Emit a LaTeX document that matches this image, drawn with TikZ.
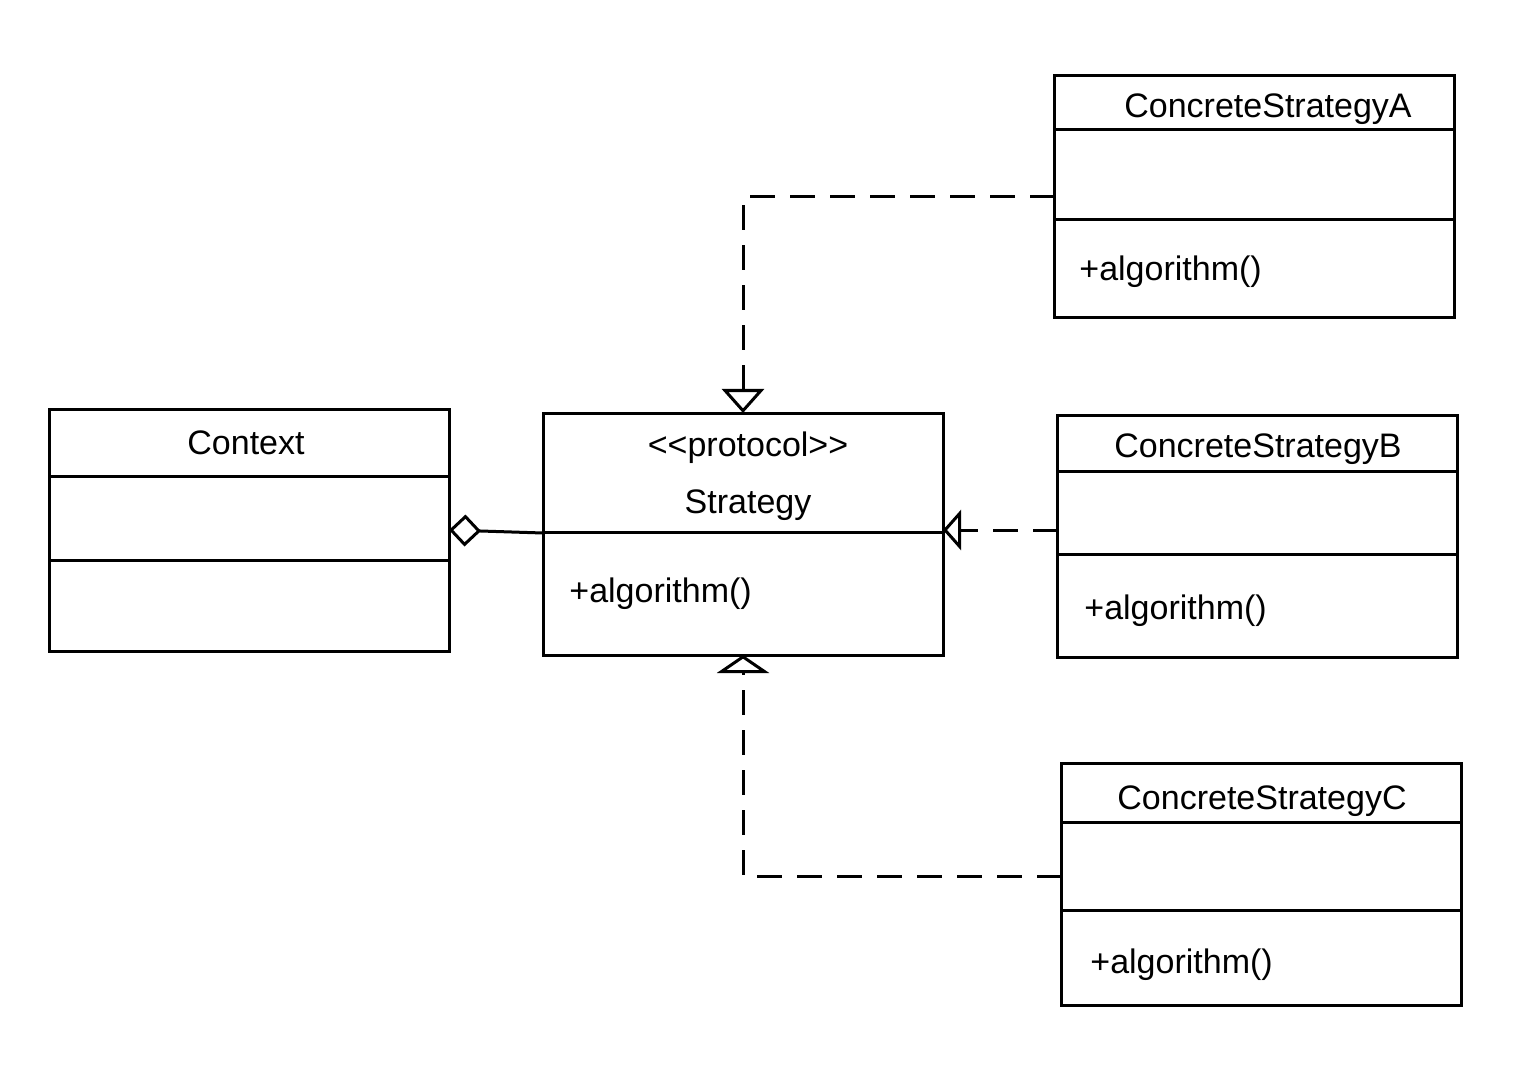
\documentclass[tikz,border=0pt]{standalone}
\usepackage{fontspec}
\setmainfont{Liberation Sans}
\usetikzlibrary{arrows.meta}
\begin{document}
\begin{tikzpicture}[x=0.5pt,y=-0.5pt,
  box/.style={draw, line width=1.5pt, inner sep=0pt, outer sep=0pt, minimum width=200pt, minimum height=121pt},
  sep/.style={line width=1.5pt},
  title/.style={font=\fontsize{17}{20}\selectfont, anchor=base, inner sep=0pt},
  member/.style={font=\fontsize{17}{20}\selectfont, anchor=base west, inner sep=0pt},
  real/.style={line width=1.5pt, dash pattern=on 12.5pt off 7.5pt},
  link/.style={line width=1.5pt}]
\useasboundingbox (0,0) rectangle (1514,1080);
\fill[white] (0,0) rectangle (1514,1080);
% boxes
\node[box] (ctx) at (249,530) {};
\node[box] (strat) at (743,534) {};
\node[box] (csa) at (1254.5,197) {};
\node[box] (csb) at (1257.5,536) {};
\node[box] (csc) at (1261.5,884.5) {};
% separators
\draw[sep] (ctx.west |- 0,476) -- (ctx.east |- 0,476);
\draw[sep] (ctx.west |- 0,560) -- (ctx.east |- 0,560);
\draw[sep] (strat.west |- 0,532) -- (strat.east |- 0,532);
\draw[sep] (csa.west |- 0,130) -- (csa.east |- 0,130);
\draw[sep] (csa.west |- 0,220) -- (csa.east |- 0,220);
\draw[sep] (csb.west |- 0,471) -- (csb.east |- 0,471);
\draw[sep] (csb.west |- 0,554) -- (csb.east |- 0,554);
\draw[sep] (csc.west |- 0,822) -- (csc.east |- 0,822);
\draw[sep] (csc.west |- 0,910) -- (csc.east |- 0,910);
% texts
\node[title] (ctxname) at (246,454) {Context};
\node[title] (stereo) at (748,456) {<{}<protocol>{}>};
\node[title] (stratname) at (748,513) {Strategy};
\node[member] (stratop) at (569,602) {+algorithm()};
\node[title] (csaname) at (1268,118) {ConcreteStrategyA};
\node[member] (csaop) at (1079,281) {+algorithm()};
\node[title] (csbname) at (1258,457) {ConcreteStrategyB};
\node[member] (csbop) at (1084,619) {+algorithm()};
\node[title] (cscname) at (1262,809) {ConcreteStrategyC};
\node[member] (cscop) at (1090,973) {+algorithm()};
% connectors
\draw[real, -{Triangle[open, length=12pt, width=21pt, line width=1.5pt]}] (csa.west) -| (strat.north);
\draw[real, -{Triangle[open, length=9pt, width=20pt, line width=1.5pt]}] (csb.west |- 0,530) -- (strat.east |- 0,530);
\draw[real, -{Triangle[open, length=9pt, width=26pt, line width=1.5pt]}] (csc.west |- 0,876) -| (strat.south);
\draw[link, -{Diamond[open, length=16pt, width=16pt, line width=1.5pt]}] (strat.west |- 0,533) -- (ctx.east);
\end{tikzpicture}
\end{document}
